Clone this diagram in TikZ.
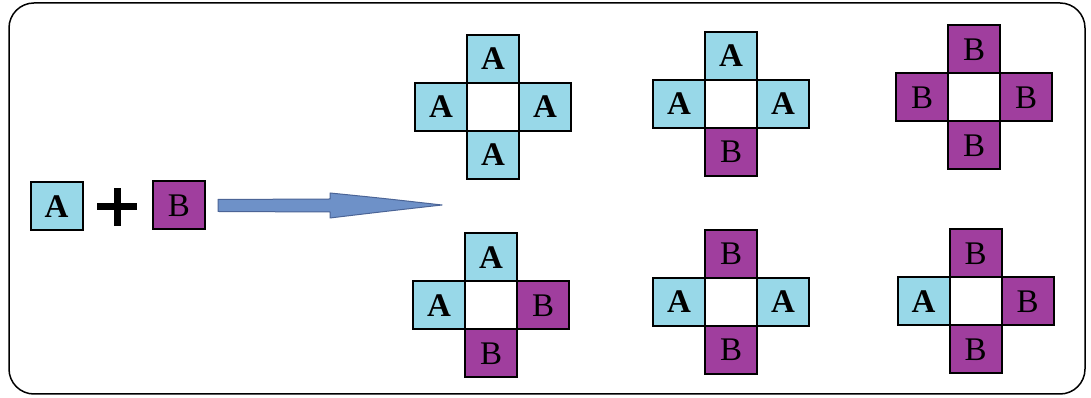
\documentclass[tikz,border=0pt]{standalone}
\usepackage{fontspec}
\setmainfont{Liberation Serif}
\definecolor{cellA}{RGB}{152,216,232}
\definecolor{cellB}{RGB}{160,62,158}
\definecolor{arrowfill}{RGB}{110,145,200}
\definecolor{arrowline}{RGB}{75,100,150}
\tikzset{
  cell/.style={draw=black, line width=2pt, minimum width=52pt, minimum height=48pt,
    inner sep=0pt, font=\fontsize{33}{33}\selectfont},
  cellA/.style={cell, fill=cellA},
  cellB/.style={cell, fill=cellB},
  hole/.style={cell, fill=white},
  frame/.style={draw=black, line width=1.5pt, rounded corners=25pt},
}
% one cross: centre name, centre position, then the kinds of the top, left, right, bottom cells
\newcommand{\labelof}[1]{\ifx#1A\textbf{A}\else B\fi}
\newcommand{\ringcross}[7]{%
  \node[hole] (#1c) at (#2,#3) {};
  \node[cell#4] (#1t) at (#2,#3+48) {\labelof#4};
  \node[cell#5] (#1l) at (#2-52,#3) {\labelof#5};
  \node[cell#6] (#1r) at (#2+52,#3) {\labelof#6};
  \node[cell#7] (#1b) at (#2,#3-48) {\labelof#7};
}
\begin{document}
\begin{tikzpicture}[x=1pt,y=1pt]
  \useasboundingbox (0,0) rectangle (1091,398);
  \fill[white] (0,0) rectangle (1091,398);
  \draw[frame] (9,4) rectangle (1085,395);

  % reactants
  \node[cellA] (a) at (56.5,191.5) {\textbf{A}};
  \node[cellB] (b) at (179,192.5) {B};
  \coordinate (plus) at (117,191);
  \draw[line width=7pt] ([xshift=-20pt]plus) -- ([xshift=20pt]plus)
                        ([yshift=-19pt]plus) -- ([yshift=19pt]plus);

  % reaction arrow
  \coordinate (tip) at (442,193);
  \draw[arrowline, fill=arrowfill, line width=1pt, line join=round]
    ([xshift=12pt,yshift=6pt]b.east) -- (330,199) -- (330,205)
    .. controls (380,200) .. (tip)
    .. controls (380,186) .. (330,180) -- (330,186)
    -- ([xshift=12pt,yshift=-6pt]b.east) -- cycle;

  % products
  \ringcross{p}{493}{291}{A}{A}{A}{A}
  \ringcross{q}{731}{294}{A}{A}{A}{B}
  \ringcross{r}{974}{300.5}{B}{B}{B}{B}
  \ringcross{s}{491}{92.5}{A}{A}{B}{B}
  \ringcross{u}{731}{96}{B}{A}{A}{B}
  \ringcross{v}{975.5}{96.5}{B}{A}{B}{B}
\end{tikzpicture}
\end{document}
